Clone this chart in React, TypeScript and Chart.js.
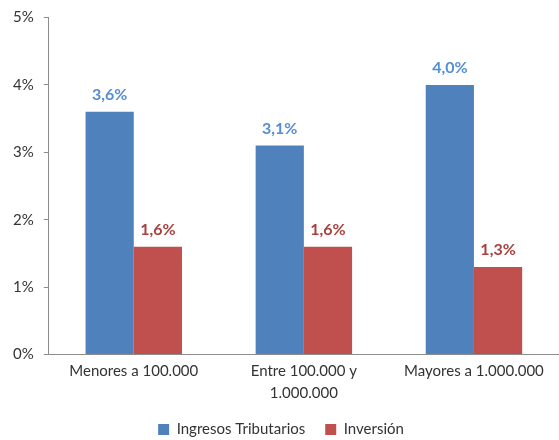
import React, { useEffect, useRef } from "react";
import { Chart, registerables } from "chart.js";

Chart.register(...registerables);

const categories: (string | string[])[] = [
  "Menores a 100.000",
  ["Entre 100.000 y", "1.000.000"],
  "Mayores a 1.000.000",
];
const ingresosTributarios = [3.6, 3.1, 4.0];
const inversion = [1.6, 1.6, 1.3];
const seriesNames = ["Ingresos Tributarios", "Inversión"];
const barColors = ["#4F81BD", "#C0504D"];
const labelColors = ["#558ED5", "#A8413E"];

const FONT = "Lato, 'Open Sans', sans-serif";

const dataLabelPlugin = {
  id: "dataLabels",
  afterDatasetsDraw(chart: any) {
    const ctx = chart.ctx;
    ctx.save();
    ctx.font = `bold 16px ${FONT}`;
    ctx.textAlign = "center";
    ctx.textBaseline = "alphabetic";
    chart.data.datasets.forEach((ds: any, di: number) => {
      const meta = chart.getDatasetMeta(di);
      meta.data.forEach((bar: any, i: number) => {
        const v = ds.data[i];
        ctx.fillStyle = labelColors[di];
        ctx.fillText(v.toFixed(1).replace(".", ",") + "%", bar.x, bar.y - 12);
      });
    });
    ctx.restore();
  },
};

export default function App() {
  const ref = useRef<HTMLCanvasElement>(null);
  useEffect(() => {
    if (!ref.current) return;
    const chart = new Chart(ref.current, {
      type: "bar",
      data: {
        labels: categories,
        datasets: [
          {
            label: seriesNames[0],
            data: ingresosTributarios,
            backgroundColor: barColors[0],
            categoryPercentage: 0.567,
            barPercentage: 1,
          },
          {
            label: seriesNames[1],
            data: inversion,
            backgroundColor: barColors[1],
            categoryPercentage: 0.567,
            barPercentage: 1,
          },
        ],
      },
      options: {
        animation: false,
        responsive: true,
        maintainAspectRatio: false,
        layout: { padding: { top: 6, right: 0, left: 3, bottom: 2 } },
        plugins: {
          legend: {
            position: "bottom",
            labels: {
              boxWidth: 11,
              boxHeight: 11,
              color: "#333",
              font: { family: FONT, size: 15 },
              padding: 20,
            },
          },
          tooltip: { enabled: false },
        },
        scales: {
          x: {
            grid: { display: false },
            border: { display: true, color: "#8c8c8c", width: 1 },
            ticks: {
              color: "#333",
              font: { family: FONT, size: 15, lineHeight: 1.45 },
              padding: -2,
              maxRotation: 0,
            },
          },
          y: {
            min: 0,
            max: 5,
            grid: {
              display: true,
              drawOnChartArea: false,
              drawTicks: true,
              tickLength: 5,
              color: "#8c8c8c",
            },
            border: { display: true, color: "#8c8c8c", width: 1 },
            ticks: {
              stepSize: 1,
              color: "#333",
              font: { family: FONT, size: 15, lineHeight: 1 },
              padding: 10,
              callback: (v: any) => `${v}%`,
            },
          },
        },
      },
      plugins: [dataLabelPlugin],
    });
    return () => chart.destroy();
  }, []);
  return (
    <div style={{ position: "fixed", left: 0, top: 0, width: 559, height: 440, overflow: "hidden", background: "#fff" }}>
      <div style={{ position: "relative", width: 559, height: 449 }}>
        <canvas ref={ref} />
      </div>
    </div>
  );
}
